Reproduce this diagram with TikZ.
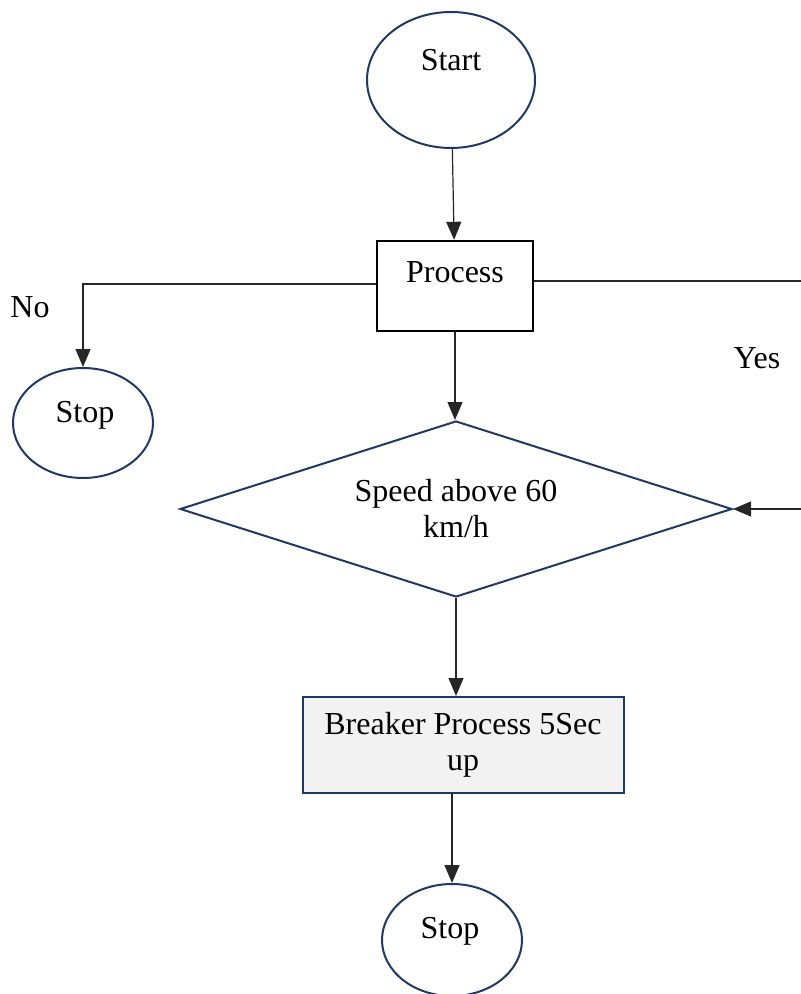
\documentclass[tikz,border=0pt]{standalone}
\usepackage{fontspec}
\setmainfont{Liberation Serif}
\usetikzlibrary{shapes.geometric}
\usetikzlibrary{arrows.meta}
\usetikzlibrary{positioning}
\definecolor{Bordure}{HTML}{1F3864}
\definecolor{Fond}{HTML}{F2F2F2}
\definecolor{Fleche}{HTML}{262626}

\tikzset{
  terminal/.style={ellipse, draw=Bordure, line width=1pt, inner sep=0pt},
  processbox/.style={rectangle, draw=black, line width=1.2pt, inner sep=0pt,
    minimum width=78pt, minimum height=45pt},
  decision/.style={diamond, draw=Bordure, line width=1pt, inner sep=0pt, aspect=3.1,
    minimum width=276pt, minimum height=88pt, align=center},
  breakerbox/.style={rectangle, draw=Bordure, fill=Fond, line width=1pt, inner sep=0pt,
    minimum width=160.5pt, minimum height=48pt, align=center},
  txt/.style={anchor=base, inner sep=0pt},
  arrow/.style={draw=Fleche, line width=0.6pt, -{Triangle[length=9pt,width=7.5pt]}}
}

\begin{document}
\begin{tikzpicture}[x=0.5pt, y=-0.5pt, font=\fontsize{16}{18}\selectfont]
\useasboundingbox (0,0) rectangle (800,994);

% Formes
\node[terminal, minimum width=84pt, minimum height=68pt] (start) at (451,80) {};
\node[txt] (starttext) at (451,71) {Start};

\node[processbox] (process) at (455,286) {};
\node[txt] (processtext) at (455,283) {Process};

\node[terminal, minimum width=70pt, minimum height=55pt] (stopl) at (83,423) {};
\node[txt] (stopltext) at (85,422) {Stop};

\node[decision] (speed) at (456,509) {Speed above 60\\km/h};

\node[breakerbox] (breaker) at (463,745) {Breaker Process 5Sec\\up};

\node[terminal, minimum width=70pt, minimum height=56pt] (stopb) at (452,940) {};
\node[txt] (stopbtext) at (450,938) {Stop};

% Etiquettes
\node[txt] (no) at (30,317) {No};
\node[txt] (yes) at (757,368) {Yes};

% Fleches
\draw[arrow] (start) -- (process);
\draw[arrow] ([yshift=1pt]process.west) -| (stopl.north);
\coordinate (loopr) at (812,281);
\draw[arrow] ([yshift=2.5pt]process.east) -- ([yshift=2.5pt]process.east -| loopr) |- (speed.east);
\draw[arrow] (process.south) -- (process.south |- speed.north);
\draw[arrow] (speed.south) -- (speed.south |- breaker.north);
\draw[arrow] (stopb.north |- breaker.south) -- (stopb.north);
\end{tikzpicture}
\end{document}
